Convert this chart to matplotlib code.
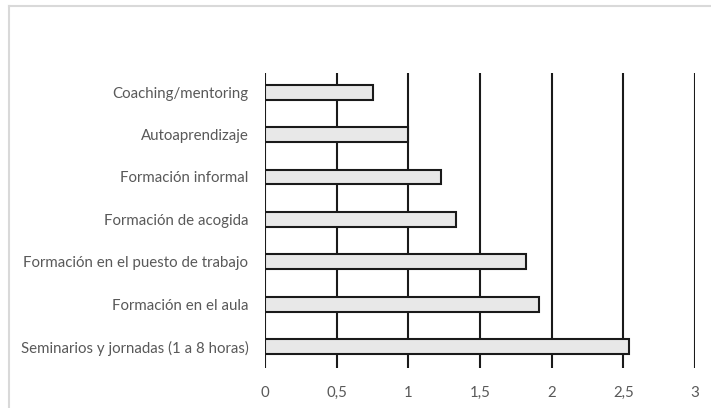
import matplotlib
matplotlib.use('Agg')
import matplotlib.pyplot as plt
from matplotlib.lines import Line2D

# categories from bottom to top
categories = ['Seminarios y jornadas (1 a 8 horas)', 'Formación en el aula',
              'Formación en el puesto de trabajo', 'Formación de acogida',
              'Formación informal', 'Autoaprendizaje', 'Coaching/mentoring']
values = [2.54, 1.91, 1.82, 1.33, 1.23, 1.0, 0.75]
xticks = [0, 0.5, 1, 1.5, 2, 2.5, 3]
xtick_labels = ['0', '0,5', '1', '1,5', '2', '2,5', '3']

plt.rcParams['font.family'] = ['Lato', 'DejaVu Sans']

fig = plt.figure(figsize=(7.11, 4.08), dpi=100)
ax = fig.add_axes([265/711, 1 - 368/408, 430/711, 295/408])

ypos = list(range(len(categories)))
for x in xticks:
    ax.axvline(x, color='#1a1a1a', lw=1.5, zorder=1)
ax.barh(ypos, values, height=0.35, color='#e8e8e8', edgecolor='#1a1a1a',
        linewidth=1.5, zorder=2)

ax.set_xlim(0, 3)
ax.set_ylim(-0.5, 6.45)
ax.set_yticks(ypos)
ax.set_yticklabels(categories)
ax.set_xticks(xticks)
ax.set_xticklabels(xtick_labels)
ax.tick_params(axis='both', length=0, labelsize=10.8, labelcolor='#595959')
ax.tick_params(axis='x', pad=13)
ax.tick_params(axis='y', pad=12)
for s in ax.spines.values():
    s.set_visible(False)

# light frame around the chart area
fig.add_artist(Line2D([9/711, 9/711], [0, 1 - 6/408], color='#d9d9d9', lw=1.5))
fig.add_artist(Line2D([9/711, 1], [1 - 6/408, 1 - 6/408], color='#d9d9d9', lw=1.5))

fig.savefig('out.png', dpi=100)
